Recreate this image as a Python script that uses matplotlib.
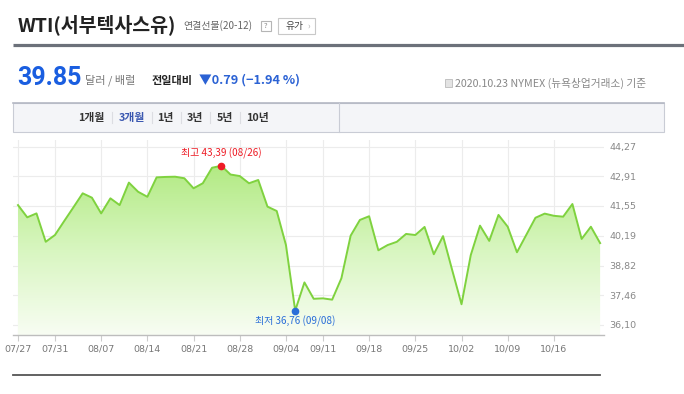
import matplotlib
matplotlib.use("Agg")
import matplotlib.pyplot as plt
import numpy as np
from matplotlib.patches import Rectangle, Polygon
from matplotlib.colors import LinearSegmentedColormap

plt.rcParams['font.family'] = ['Noto Sans CJK KR', 'DejaVu Sans']

# ---------------- data ----------------
dates = ["07/27", "07/28", "07/29", "07/30", "07/31",
         "08/03", "08/04", "08/05", "08/06", "08/07",
         "08/10", "08/11", "08/12", "08/13", "08/14",
         "08/17", "08/18", "08/19", "08/20", "08/21",
         "08/24", "08/25", "08/26", "08/27", "08/28",
         "08/31", "09/01", "09/02", "09/03", "09/04",
         "09/08", "09/09", "09/10", "09/11",
         "09/14", "09/15", "09/16", "09/17", "09/18",
         "09/21", "09/22", "09/23", "09/24", "09/25",
         "09/28", "09/29", "09/30", "10/01", "10/02",
         "10/05", "10/06", "10/07", "10/08", "10/09",
         "10/12", "10/13", "10/14", "10/15", "10/16",
         "10/19", "10/20", "10/21", "10/22", "10/23"]
prices = [41.59, 41.03, 41.21, 39.91, 40.22,
          40.86, 41.49, 42.13, 41.93, 41.21,
          41.90, 41.59, 42.62, 42.20, 41.97,
          42.86, 42.88, 42.89, 42.82, 42.36,
          42.59, 43.30, 43.39, 42.99, 42.92,
          42.59, 42.74, 41.52, 41.32, 39.76,
          36.76, 38.05, 37.30, 37.32,
          37.26, 38.24, 40.19, 40.91, 41.08,
          39.52, 39.76, 39.91, 40.27, 40.22,
          40.59, 39.34, 40.17, 38.60, 37.05,
          39.30, 40.65, 39.95, 41.14, 40.60,
          39.43, 40.22, 41.01, 41.20, 41.10,
          41.06, 41.64, 40.04, 40.60, 39.85]
xtick_labels = ["07/27", "07/31", "08/07", "08/14", "08/21", "08/28",
                "09/04", "09/11", "09/18", "09/25", "10/02", "10/09", "10/16"]
ytick_values = [36.10, 37.46, 38.82, 40.19, 41.55, 42.91, 44.27]
tabs = ["1개월", "3개월", "1년", "3년", "5년", "10년"]

W, H = 684, 394
fig = plt.figure(figsize=(W / 100, H / 100), dpi=100)
fig.patch.set_facecolor("white")

# background axes in pixel coordinates
bg = fig.add_axes([0, 0, 1, 1])
bg.set_xlim(0, W)
bg.set_ylim(H, 0)
bg.axis("off")

# ---- header ----
bg.text(18, 25, "WTI(서부텍사스유)", fontsize=14, fontweight="bold", color="#222222",
        va="center", ha="left")
bg.text(183, 26, "연결선물(20-12)", fontsize=7.2, color="#666666", va="center", ha="left")
bg.add_patch(Rectangle((261, 21), 10, 10, fill=False, edgecolor="#b5b5b5", lw=0.8))
bg.text(266, 26.3, "?", fontsize=5.5, color="#888888", ha="center", va="center")
bg.add_patch(Rectangle((278, 18), 37, 16, facecolor="white", edgecolor="#c8c8c8", lw=0.8))
bg.text(294, 26, "유가", fontsize=7, color="#444444", ha="center", va="center")
bg.text(309, 26, "›", fontsize=6, color="#aaaaaa", ha="center", va="center")
bg.plot([13, 684], [44.5, 44.5], color="#6c717a", lw=2.3, solid_capstyle="butt")

# ---- price row ----
bg.text(17, 78, "39.85", fontsize=18, fontweight="bold", color="#1a5ee0",
        family=["Roboto", "DejaVu Sans"], va="center", ha="left")
bg.text(85, 80, "달러 / 배럴", fontsize=8, color="#777777", va="center", ha="left")
bg.text(152, 80, "전일대비", fontsize=8, fontweight="bold", color="#222222", va="center", ha="left")
bg.text(199, 80, "▼0.79 (−1.94 %)", fontsize=9.2, fontweight="bold", color="#2b62d4",
        family=["Noto Sans CJK KR", "DejaVu Sans"], va="center", ha="left")
bg.add_patch(Rectangle((445, 79), 7, 8, facecolor="#e3e3e3", edgecolor="#bbbbbb", lw=0.6))
bg.text(455, 83, "2020.10.23 NYMEX (뉴욕상업거래소) 기준", fontsize=7.7, color="#888888",
        va="center", ha="left")

# ---- tab box ----
bg.add_patch(Rectangle((13, 102.5), 651, 29.5, facecolor="#f4f5f8", edgecolor="#c9ccd5", lw=0.8))
bg.plot([13, 664], [102.5, 102.5], color="#b4b8c4", lw=1.2)
bg.plot([339, 339], [102.5, 132], color="#c9ccd5", lw=0.8)
tab_x = [91.5, 131.5, 165.5, 195, 225, 257.5]
for t, x in zip(tabs, tab_x):
    bg.text(x, 117.5, t, fontsize=7.8, fontweight="bold",
            color="#3a57b0" if t == "3개월" else "#333333", ha="center", va="center")
for sx in [112, 152, 180.5, 210, 240]:
    bg.plot([sx, sx], [112, 123], color="#dcdde2", lw=0.8)

# bottom line
bg.plot([13, 600], [375, 375], color="#555555", lw=1.3)

# ---------------- chart ----------------
x_px0, x_step = 18.0, 9.24
ax_left, ax_right, ax_top, ax_bot = 13, 604, 140, 335
ax = fig.add_axes([ax_left / W, 1 - ax_bot / H, (ax_right - ax_left) / W, (ax_bot - ax_top) / H])
ax.set_facecolor("none")
xs = np.arange(len(prices))
ax.set_xlim((ax_left - x_px0) / x_step, (ax_right - x_px0) / x_step)
ppv = 21.84
ymin = 36.10 - (ax_bot - 325) / ppv
ymax = 36.10 + (325 - ax_top) / ppv
ax.set_ylim(ymin, ymax)

tick_pos = [dates.index(d) for d in xtick_labels]
ax.set_xticks(tick_pos)
ax.set_xticklabels(xtick_labels)
ax.set_yticks(ytick_values)
ax.set_yticklabels([f"{v:.2f}".replace(".", ",") for v in ytick_values])
ax.yaxis.tick_right()
ax.tick_params(axis="y", length=0, pad=4, labelsize=6.8, labelcolor="#888888")
ax.tick_params(axis="x", length=4, width=0.8, color="#cccccc", pad=3, labelsize=6.8,
               labelcolor="#777777")
for lab in ax.get_xticklabels() + ax.get_yticklabels():
    lab.set_family(["DejaVu Sans"])
ax.grid(True, color="#ececec", lw=0.8)
ax.set_axisbelow(True)
for s in ["top", "right", "left"]:
    ax.spines[s].set_visible(False)
ax.spines["bottom"].set_color("#bdbdbd")
ax.spines["bottom"].set_linewidth(1.0)

# gradient fill
cmap = LinearSegmentedColormap.from_list("g", ["#f8fdf3", "#d8f6c0", "#b2ea83"])
grad = np.linspace(0, 1, 256).reshape(-1, 1)
top_v = max(prices)
im = ax.imshow(grad, extent=[xs[0], xs[-1], ymin, top_v], origin="lower", aspect="auto",
               cmap=cmap, zorder=1)
poly_pts = [(xs[0], ymin)] + list(zip(xs, prices)) + [(xs[-1], ymin)]
clip = Polygon(poly_pts, closed=True, transform=ax.transData, facecolor="none", edgecolor="none")
ax.add_patch(clip)
im.set_clip_path(clip)
ax.plot(xs, prices, color="#7fd23f", lw=1.4, zorder=3)

# high/low markers
hi = int(np.argmax(prices))
lo = int(np.argmin(prices))
ax.plot(hi, prices[hi], "o", color="#ee1c25", ms=4.5, zorder=4)
ax.plot(lo, prices[lo], "o", color="#2a6ed8", ms=4.5, zorder=4)
ax.annotate(f"최고 {prices[hi]:.2f}".replace(".", ",") + f" ({dates[hi]})",
            (hi, prices[hi]), xytext=(0, 9), textcoords="offset points",
            ha="center", va="center", fontsize=7.2, color="#ee1c25", zorder=5)
ax.annotate(f"최저 {prices[lo]:.2f}".replace(".", ",") + f" ({dates[lo]})",
            (lo, prices[lo]), xytext=(0, -7.5), textcoords="offset points",
            ha="center", va="center", fontsize=7.2, color="#2a6ed8", zorder=5)

fig.savefig("out.png", dpi=100, facecolor="white")
